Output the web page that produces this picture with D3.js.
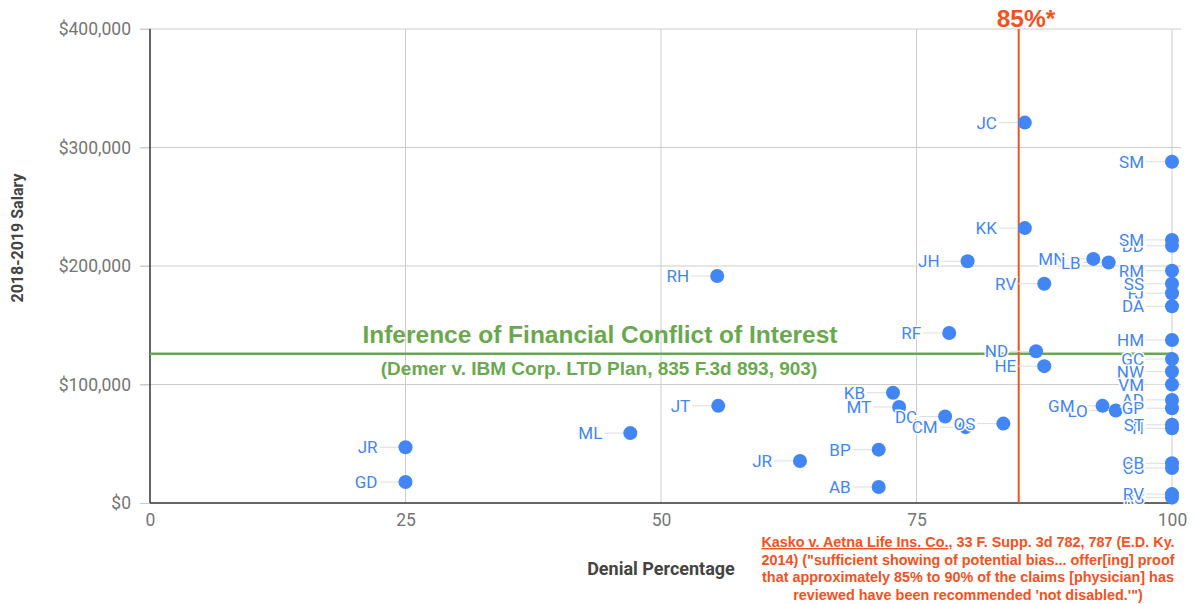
<!DOCTYPE html>
<html>
<head>
<meta charset="utf-8">
<script src="https://cdn.jsdelivr.net/npm/d3@7"></script>
<style>
  body { margin: 0; background: #fff; }
  svg text { font-family: Roboto, "Liberation Sans", sans-serif; }
</style>
</head>
<body>
<div class="chart_container"></div>
<script>
// reviewer initials, denial %, salary
var initials = ["JC","SM","KK","DD","SM","JH","MN","LB","RM","RV","FJ","SS","DA","RH","RF","HM","ND","GC","HE","NW","VM","KB","AD","LO","GP","GM","JT","MT","DC","CM","OS","TI","ST","ML","JR","BP","JR","CS","CB","GD","AB","RS","RV"];
var denial   = [85.6, 100, 85.6, 100, 100, 80, 92.3, 93.8, 100, 87.5, 100, 100, 100, 55.5, 78.2, 100, 86.7, 100, 87.5, 100, 100, 72.7, 100, 94.5, 100, 93.2, 55.6, 73.3, 77.8, 79.8, 83.5, 100, 100, 47, 25, 71.3, 63.6, 100, 100, 25, 71.3, 100, 100];
var salary   = [321000, 288000, 232000, 217000, 222000, 204000, 206000, 203000, 196000, 185000, 177000, 185000, 166000, 191500, 143500, 137500, 128000, 121500, 115500, 111000, 100000, 93000, 87000, 78000, 80000, 82000, 82000, 81000, 73000, 64000, 67000, 63000, 66000, 59000, 47000, 45000, 35500, 29500, 33500, 17700, 13500, 4500, 7500];

var xTicks = [0, 25, 50, 75, 100];
var yTicks = [0, 100000, 200000, 300000, 400000];

var thresholdPct = 85;
var conflictSalary = 126000;

var citation = [
  ["Kasko v. Aetna Life Ins. Co.", ", 33 F. Supp. 3d 782, 787 (E.D. Ky."],
  ["", "2014) (\"sufficient showing of potential bias... offer[ing] proof"],
  ["", "that approximately 85% to 90% of the claims [physician] has"],
  ["", "reviewed have been recommended 'not disabled.'\")"]
];

var blue = "#4285f4";
var red = "#f4511e";
var green = "#6aa84f";

var svg = d3.select(".chart_container").append("svg")
    .attr("width", 1195)
    .attr("height", 604);

var x = d3.scaleLinear().domain([0, 100]).range([150, 1172]);
var y = d3.scaleLinear().domain([0, 400000]).range([503, 29]);

// grid
svg.append("g").selectAll("line")
    .data(yTicks.slice(1))
    .enter().append("line")
      .attr("x1", 140).attr("x2", 1181)
      .attr("y1", d => y(d)).attr("y2", d => y(d))
      .style("stroke", "#cccccc").style("stroke-width", 1);

svg.append("g").selectAll("line")
    .data(xTicks.slice(1))
    .enter().append("line")
      .attr("x1", d => x(d)).attr("x2", d => x(d))
      .attr("y1", y(400000)).attr("y2", y(0))
      .style("stroke", "#cccccc").style("stroke-width", 1);

// axes
var yAxis = svg.append("g")
    .attr("transform", "translate(150,0)")
    .call(d3.axisLeft(y).tickValues(yTicks).tickSize(10).tickPadding(9)
      .tickFormat(d => "$" + d3.format(",")(d)));
yAxis.select(".domain").remove();
yAxis.selectAll(".tick line").style("stroke", "#cccccc");
yAxis.selectAll("text").style("fill", "#757575").style("font-size", "17.5px");

var xAxis = svg.append("g")
    .attr("transform", "translate(0,503)")
    .call(d3.axisBottom(x).tickValues(xTicks).tickSize(0).tickPadding(11));
xAxis.select(".domain").remove();
xAxis.selectAll("text").style("fill", "#757575").style("font-size", "17.5px");

svg.append("line")
    .attr("x1", 150).attr("x2", 1172).attr("y1", y(0)).attr("y2", y(0))
    .style("stroke", "#333").style("stroke-width", 1.5);
svg.append("line")
    .attr("x1", 150).attr("x2", 150).attr("y1", y(400000)).attr("y2", y(0))
    .style("stroke", "#333").style("stroke-width", 1.5);

// axis titles
svg.append("text")
    .attr("transform", "translate(23," + 238 + ") rotate(-90)")
    .attr("text-anchor", "middle")
    .style("font-family", "Roboto").style("font-weight", "bold")
    .style("font-size", "16px").style("fill", "#444")
    .text("2018-2019 Salary");

svg.append("text")
    .attr("x", 661).attr("y", 575)
    .attr("text-anchor", "middle")
    .style("font-family", "Roboto").style("font-weight", "bold")
    .style("font-size", "18px").style("fill", "#444")
    .text("Denial Percentage");

// conflict of interest line
svg.append("line")
    .attr("x1", 150).attr("x2", 1172)
    .attr("y1", y(conflictSalary)).attr("y2", y(conflictSalary))
    .style("stroke", green).style("stroke-width", 2.5);

svg.append("text")
    .attr("x", 600).attr("y", 343)
    .attr("text-anchor", "middle")
    .style("font-family", "Liberation Sans").style("font-weight", "bold")
    .style("font-size", "24.5px").style("fill", green)
    .text("Inference of Financial Conflict of Interest");

svg.append("text")
    .attr("x", 599).attr("y", 375)
    .attr("text-anchor", "middle")
    .style("font-family", "Liberation Sans").style("font-weight", "bold")
    .style("font-size", "19px").style("fill", green)
    .text("(Demer v. IBM Corp. LTD Plan, 835 F.3d 893, 903)");

// 85% line
svg.append("line")
    .attr("x1", x(thresholdPct)).attr("x2", x(thresholdPct))
    .attr("y1", y(400000)).attr("y2", y(0))
    .style("stroke", red).style("stroke-width", 2);

svg.append("text")
    .attr("x", 1026).attr("y", 27)
    .attr("text-anchor", "middle")
    .style("font-family", "Liberation Sans").style("font-weight", "bold")
    .style("font-size", "24.5px").style("fill", red)
    .text(thresholdPct + "%*");

// points
var pts = initials.map((d, i) => ({ name: d, dx: denial[i], sal: salary[i] }));

var marks = svg.append("g");
marks.selectAll("line")
    .data(pts)
    .enter().append("line")
      .attr("x1", d => x(d.dx) - 26).attr("x2", d => x(d.dx))
      .attr("y1", d => y(d.sal)).attr("y2", d => y(d.sal))
      .style("stroke", "#dddddd").style("stroke-width", 1);

marks.selectAll("circle")
    .data(pts)
    .enter().append("circle")
      .attr("cx", d => x(d.dx))
      .attr("cy", d => y(d.sal))
      .attr("r", 7)
      .style("fill", blue);

marks.selectAll("text")
    .data(pts)
    .enter().append("text")
      .attr("x", d => x(d.dx) - 28)
      .attr("y", d => y(d.sal))
      .attr("dy", "0.36em")
      .attr("text-anchor", "end")
      .style("font-size", "17px")
      .style("fill", blue)
      .style("stroke", "#fff").style("stroke-width", 3)
      .style("paint-order", "stroke")
      .text(d => d.name);

// citation
var cite = svg.append("text")
    .attr("text-anchor", "middle")
    .style("font-family", "Liberation Sans").style("font-weight", "bold")
    .style("font-size", "14.4px").style("fill", red);

citation.forEach((line, i) => {
  var t = cite.append("tspan").attr("x", 968).attr("y", 547 + i * 17.7);
  if (line[0]) {
    t.append("tspan").style("text-decoration", "underline").text(line[0]);
  }
  t.append("tspan").text(line[1]);
});
</script>
</body>
</html>
